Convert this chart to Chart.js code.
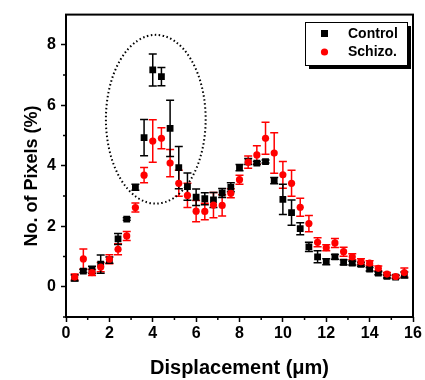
<!DOCTYPE html>
<html lang="en">
<head>
<meta charset="UTF-8">
<title>Displacement - Control vs Schizo.</title>
<script src="https://cdn.jsdelivr.net/npm/chart.js"></script>
<style>
  html, body { margin: 0; padding: 0; background: #fff; }
</style>
</head>
<body>
<canvas id="chart" width="425" height="380"></canvas>
<script>
  // values (displacement in um, % of pixels)
  const displacement = [0.4, 0.8, 1.2, 1.6, 2.0, 2.4, 2.8, 3.2, 3.6, 4.0, 4.4, 4.8, 5.2, 5.6, 6.0, 6.4, 6.8, 7.2, 7.6, 8.0,
                        8.4, 8.8, 9.2, 9.6, 10.0, 10.4, 10.8, 11.2, 11.6, 12.0, 12.4, 12.8, 13.2, 13.6, 14.0, 14.4, 14.8, 15.2, 15.6];
  const control    = [0.29, 0.52, 0.56, 0.75, 0.88, 1.58, 2.24, 3.29, 4.93, 7.17, 6.95, 5.24, 3.94, 3.31, 2.96, 2.91, 2.87, 3.10, 3.29, 3.94,
                      4.14, 4.09, 4.14, 3.51, 2.89, 2.45, 1.92, 1.32, 0.99, 0.83, 0.99, 0.81, 0.78, 0.74, 0.58, 0.45, 0.34, 0.32, 0.39];
  const controlErr = [0.10, 0.05, 0.12, 0.30, 0.10, 0.18, 0.04, 0.10, 0.60, 0.53, 0.30, 0.93, 0.70, 0.45, 0.27, 0.20, 0.25, 0.15, 0.15, 0.10,
                      0.10, 0.05, 0.05, 0.10, 0.50, 0.42, 0.20, 0.15, 0.20, 0.10, 0.08, 0.08, 0.06, 0.06, 0.06, 0.05, 0.05, 0.05, 0.10];
  const schizo     = [0.32, 0.92, 0.47, 0.65, 0.91, 1.24, 1.68, 2.62, 3.69, 4.82, 4.91, 4.09, 3.42, 3.02, 2.50, 2.49, 2.70, 2.69, 3.09, 3.54,
                      4.12, 4.36, 4.91, 4.42, 3.70, 3.42, 2.63, 2.09, 1.47, 1.29, 1.45, 1.16, 0.99, 0.83, 0.78, 0.61, 0.42, 0.34, 0.47];
  const schizoErr  = [0.10, 0.33, 0.10, 0.15, 0.15, 0.18, 0.15, 0.15, 0.25, 0.70, 0.35, 0.45, 0.43, 0.40, 0.35, 0.27, 0.42, 0.35, 0.15, 0.15,
                      0.20, 0.30, 0.53, 0.67, 0.44, 0.43, 0.30, 0.27, 0.15, 0.10, 0.15, 0.15, 0.10, 0.10, 0.08, 0.08, 0.05, 0.05, 0.15];
  const xMinorTicks = [1, 3, 5, 7, 9, 11, 13, 15];
  const yMinorTicks = [-1, 1, 3, 5, 7];
  // dotted ellipse around the control peak, in data units
  const ellipse = { cx: 4.14, cy: 5.54, rx: 2.3, ry: 2.79 };

  const FONT = 'Arial, "Liberation Sans", sans-serif';
  Chart.defaults.font.family = FONT;
  Chart.defaults.font.weight = 'bold';
  Chart.defaults.color = '#000';

  const toPoints = vals => vals.map((v, i) => ({ x: displacement[i], y: v }));

  // error bars, drawn under the markers
  const errorBars = {
    id: 'errorBars',
    beforeDatasetsDraw(chart) {
      const { ctx, scales: { x, y } } = chart;
      chart.data.datasets.forEach(ds => {
        ctx.save();
        ctx.strokeStyle = ds.borderColor;
        ctx.lineWidth = 1.5;
        ds.data.forEach((p, i) => {
          const px = x.getPixelForValue(p.x);
          const top = y.getPixelForValue(p.y + ds.err[i]);
          const bot = y.getPixelForValue(p.y - ds.err[i]);
          ctx.beginPath();
          ctx.moveTo(px, top); ctx.lineTo(px, bot);
          ctx.moveTo(px - 4, top); ctx.lineTo(px + 4, top);
          ctx.moveTo(px - 4, bot); ctx.lineTo(px + 4, bot);
          ctx.stroke();
        });
        ctx.restore();
      });
    }
  };

  // frame, minor ticks, y title, ellipse and legend box
  const decorations = {
    id: 'decorations',
    afterDraw(chart) {
      const { ctx, chartArea: a, scales: { x, y } } = chart;
      ctx.save();
      ctx.strokeStyle = '#000';
      ctx.lineWidth = 2;
      ctx.strokeRect(a.left, a.top, a.right - a.left, a.bottom - a.top);

      ctx.lineWidth = 1.5;
      ctx.beginPath();
      xMinorTicks.forEach(v => {
        const px = x.getPixelForValue(v);
        ctx.moveTo(px, a.bottom); ctx.lineTo(px, a.bottom + 3);
      });
      yMinorTicks.forEach(v => {
        const py = y.getPixelForValue(v);
        ctx.moveTo(a.left, py); ctx.lineTo(a.left - 3, py);
      });
      ctx.stroke();

      // y axis title (sits a little below the middle in the original)
      ctx.save();
      ctx.translate(32, 176);
      ctx.rotate(-Math.PI / 2);
      ctx.font = 'bold 18px ' + FONT;
      ctx.fillStyle = '#000';
      ctx.textAlign = 'center';
      ctx.textBaseline = 'middle';
      ctx.fillText('No. of Pixels (%)', 0, 0);
      ctx.restore();

      // dotted ellipse
      const cx = x.getPixelForValue(ellipse.cx);
      const cy = y.getPixelForValue(ellipse.cy);
      const rx = x.getPixelForValue(ellipse.cx + ellipse.rx) - cx;
      const ry = cy - y.getPixelForValue(ellipse.cy + ellipse.ry);
      ctx.setLineDash([1.5, 2.5]);
      ctx.lineWidth = 2;
      ctx.beginPath();
      ctx.ellipse(cx, cy, rx, ry, 0, 0, Math.PI * 2);
      ctx.stroke();
      ctx.setLineDash([]);

      // legend
      const lx = 305, ly = 22, lw = 102, lh = 43;
      ctx.fillStyle = '#000';
      ctx.fillRect(lx + 4, ly + 4, lw, lh);
      ctx.fillStyle = '#fff';
      ctx.fillRect(lx, ly, lw, lh);
      ctx.lineWidth = 1;
      ctx.strokeRect(lx + 0.5, ly + 0.5, lw, lh);

      ctx.fillStyle = '#000';
      ctx.fillRect(321, 30, 7, 7);
      ctx.fillStyle = '#ff0000';
      ctx.beginPath();
      ctx.arc(324.5, 52, 3.6, 0, Math.PI * 2);
      ctx.fill();

      ctx.fillStyle = '#000';
      ctx.font = 'bold 14px ' + FONT;
      ctx.textBaseline = 'middle';
      ctx.textAlign = 'left';
      ctx.fillText('Control', 348, 34);
      ctx.fillText('Schizo.', 348, 52);
      ctx.restore();
    }
  };

  new Chart(document.getElementById('chart'), {
    type: 'scatter',
    data: {
      datasets: [
        {
          label: 'Schizo.',
          data: toPoints(schizo),
          err: schizoErr,
          pointStyle: 'circle',
          pointRadius: 3.6,
          backgroundColor: '#ff0000',
          borderColor: '#ff0000',
          borderWidth: 0,
          order: 0
        },
        {
          label: 'Control',
          data: toPoints(control),
          err: controlErr,
          pointStyle: 'rect',
          pointRadius: 4.8,
          backgroundColor: '#000',
          borderColor: '#000',
          borderWidth: 0,
          order: 1
        }
      ]
    },
    options: {
      responsive: false,
      animation: false,
      layout: { padding: { top: 12, right: 12, left: 0, bottom: 0 } },
      plugins: {
        legend: { display: false },
        tooltip: { enabled: false }
      },
      scales: {
        x: {
          type: 'linear',
          min: 0,
          max: 16,
          afterFit: s => { s.height = 63; },
          grid: { drawOnChartArea: false, tickLength: 5, tickWidth: 1.5, tickColor: '#000' },
          border: { display: false },
          ticks: { stepSize: 2, padding: 2, font: { size: 16, weight: 'bold' }, color: '#000' },
          title: {
            display: true,
            text: 'Displacement (\u03BCm)',
            font: { size: 20, weight: 'bold' },
            color: '#000',
            padding: { top: 0, bottom: 0 }
          }
        },
        y: {
          type: 'linear',
          min: -1,
          max: 9,
          afterFit: s => { s.width = 66; },
          afterBuildTicks: s => { s.ticks = s.ticks.filter(t => t.value % 2 === 0); },
          grid: { drawOnChartArea: false, tickLength: 5, tickWidth: 1.5, tickColor: '#000' },
          border: { display: false },
          ticks: { stepSize: 1, padding: 5, font: { size: 16, weight: 'bold' }, color: '#000' }
        }
      }
    },
    plugins: [errorBars, decorations]
  });
</script>
</body>
</html>
